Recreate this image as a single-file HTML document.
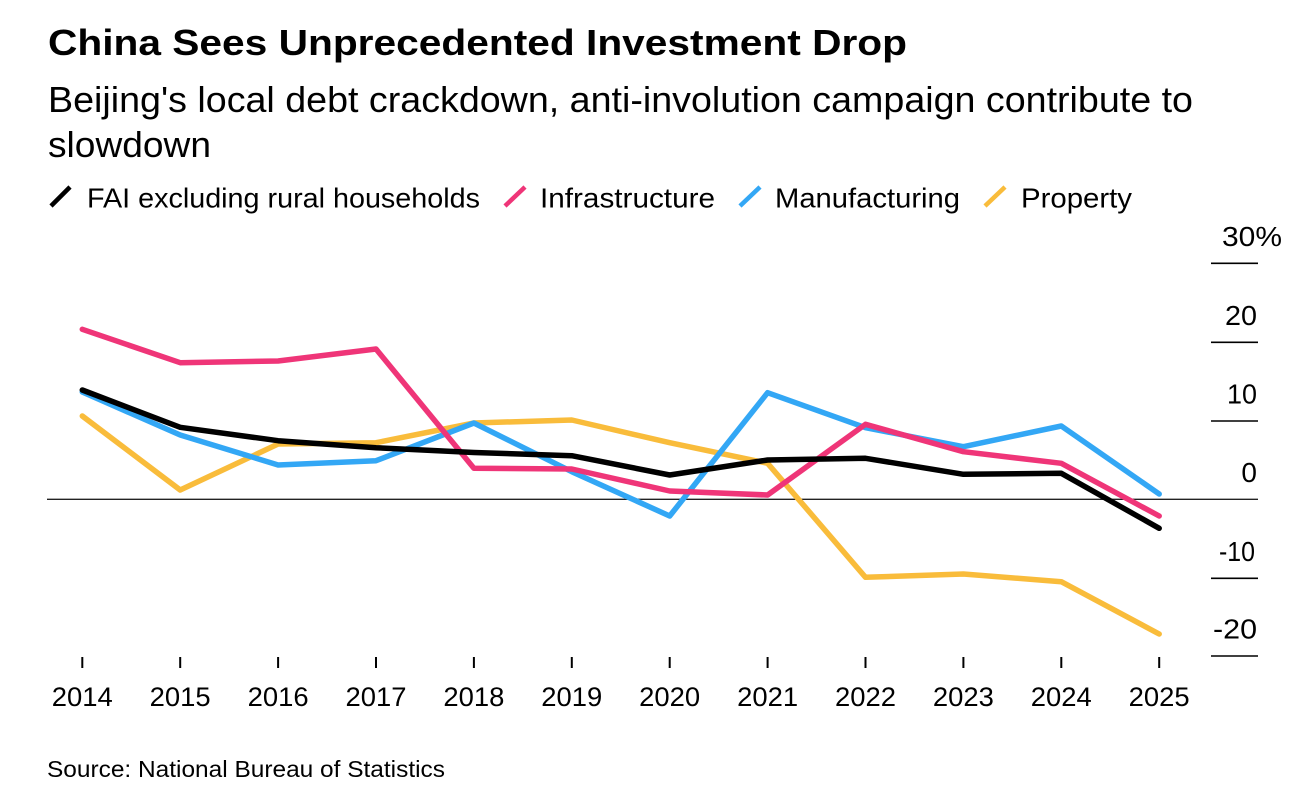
<!DOCTYPE html>
<html>
<head>
<meta charset="utf-8">
<style>
  html, body { margin: 0; padding: 0; background: #fff; }
  svg { display: block; }
  text { font-family: "Liberation Sans", Arial, sans-serif; fill: #000; }
</style>
</head>
<body>
<svg width="1298" height="788" viewBox="0 0 1298 788" xmlns="http://www.w3.org/2000/svg">
  <rect x="0" y="0" width="1298" height="788" fill="#fff"/>

  <!-- Title -->
  <text x="48" y="55" font-size="36" font-weight="bold" textLength="859" lengthAdjust="spacingAndGlyphs">China Sees Unprecedented Investment Drop</text>
  <!-- Subtitle -->
  <text x="48" y="112" font-size="36" textLength="1145" lengthAdjust="spacingAndGlyphs">Beijing's local debt crackdown, anti-involution campaign contribute to</text>
  <text x="48" y="157" font-size="36" textLength="163" lengthAdjust="spacingAndGlyphs">slowdown</text>

  <!-- Legend -->
  <line x1="51" y1="206" x2="70" y2="187" stroke="#000" stroke-width="4.5"/>
  <text x="87" y="207.5" font-size="28" textLength="393" lengthAdjust="spacingAndGlyphs">FAI excluding rural households</text>
  <line x1="505" y1="206" x2="525" y2="187" stroke="#ef3578" stroke-width="4.5"/>
  <text x="540" y="207.5" font-size="28" textLength="175" lengthAdjust="spacingAndGlyphs">Infrastructure</text>
  <line x1="740" y1="206" x2="760" y2="187" stroke="#33a7f5" stroke-width="4.5"/>
  <text x="775" y="207.5" font-size="28" textLength="185" lengthAdjust="spacingAndGlyphs">Manufacturing</text>
  <line x1="985" y1="206" x2="1005" y2="187" stroke="#f9bc3b" stroke-width="4.5"/>
  <text x="1021" y="207.5" font-size="28" textLength="111" lengthAdjust="spacingAndGlyphs">Property</text>

  <!-- Y axis grid ticks on the right -->
  <g stroke="#000" stroke-width="1.6">
    <line x1="1211" y1="263.3" x2="1258" y2="263.3"/>
    <line x1="1211" y1="342.3" x2="1258" y2="342.3"/>
    <line x1="1211" y1="421" x2="1258" y2="421"/>
    <line x1="1211" y1="578.3" x2="1258" y2="578.3"/>
    <line x1="1211" y1="656" x2="1258" y2="656"/>
  </g>
  <!-- zero line -->
  <line x1="47" y1="499.3" x2="1258" y2="499.3" stroke="#222" stroke-width="1.4"/>

  <!-- Y labels -->
  <text x="1222" y="246" font-size="28" textLength="60" lengthAdjust="spacingAndGlyphs">30%</text>
  <text x="1257" y="325" font-size="28" text-anchor="end" textLength="32" lengthAdjust="spacingAndGlyphs">20</text>
  <text x="1257" y="403.5" font-size="28" text-anchor="end" textLength="30" lengthAdjust="spacingAndGlyphs">10</text>
  <text x="1257" y="482" font-size="28" text-anchor="end">0</text>
  <text x="1255" y="561" font-size="28" text-anchor="end" textLength="36" lengthAdjust="spacingAndGlyphs">-10</text>
  <text x="1257" y="638.5" font-size="28" text-anchor="end" textLength="44" lengthAdjust="spacingAndGlyphs">-20</text>

  <!-- X ticks -->
  <g stroke="#000" stroke-width="2">
    <line x1="82.3" y1="657" x2="82.3" y2="668"/>
    <line x1="180.2" y1="657" x2="180.2" y2="668"/>
    <line x1="278.1" y1="657" x2="278.1" y2="668"/>
    <line x1="376" y1="657" x2="376" y2="668"/>
    <line x1="473.9" y1="657" x2="473.9" y2="668"/>
    <line x1="571.8" y1="657" x2="571.8" y2="668"/>
    <line x1="669.7" y1="657" x2="669.7" y2="668"/>
    <line x1="767.6" y1="657" x2="767.6" y2="668"/>
    <line x1="865.5" y1="657" x2="865.5" y2="668"/>
    <line x1="963.4" y1="657" x2="963.4" y2="668"/>
    <line x1="1061.3" y1="657" x2="1061.3" y2="668"/>
    <line x1="1159.2" y1="657" x2="1159.2" y2="668"/>
  </g>

  <!-- X labels -->
  <g font-size="27" text-anchor="middle">
    <text x="82.3" y="706" textLength="61" lengthAdjust="spacingAndGlyphs">2014</text>
    <text x="180.2" y="706" textLength="61" lengthAdjust="spacingAndGlyphs">2015</text>
    <text x="278.1" y="706" textLength="61" lengthAdjust="spacingAndGlyphs">2016</text>
    <text x="376" y="706" textLength="61" lengthAdjust="spacingAndGlyphs">2017</text>
    <text x="473.9" y="706" textLength="61" lengthAdjust="spacingAndGlyphs">2018</text>
    <text x="571.8" y="706" textLength="61" lengthAdjust="spacingAndGlyphs">2019</text>
    <text x="669.7" y="706" textLength="61" lengthAdjust="spacingAndGlyphs">2020</text>
    <text x="767.6" y="706" textLength="61" lengthAdjust="spacingAndGlyphs">2021</text>
    <text x="865.5" y="706" textLength="61" lengthAdjust="spacingAndGlyphs">2022</text>
    <text x="963.4" y="706" textLength="61" lengthAdjust="spacingAndGlyphs">2023</text>
    <text x="1061.3" y="706" textLength="61" lengthAdjust="spacingAndGlyphs">2024</text>
    <text x="1159.2" y="706" textLength="61" lengthAdjust="spacingAndGlyphs">2025</text>
  </g>

  <!-- Series -->
  <g fill="none" stroke-width="5.5" stroke-linejoin="round" stroke-linecap="round">
    <!-- Property -->
    <polyline stroke="#f9bc3b" points="82.3,416 180.2,490 278.1,444 376,442.7 473.9,423 571.8,420 669.7,442.7 767.6,463.3 865.5,577.3 963.4,574 1061.3,581.7 1159.2,634"/>
    <!-- Manufacturing -->
    <polyline stroke="#33a7f5" points="82.3,392 180.2,435 278.1,465 376,460.7 473.9,423 571.8,471.7 669.7,516 767.6,392.7 865.5,427.7 963.4,446.7 1061.3,426 1159.2,494"/>
    <!-- Infrastructure -->
    <polyline stroke="#ef3578" points="82.3,329.3 180.2,362.7 278.1,361 376,349 473.9,468.3 571.8,469 669.7,491 767.6,495 865.5,424.3 963.4,451.7 1061.3,463.3 1159.2,516"/>
    <!-- FAI -->
    <polyline stroke="#000" points="82.3,390 180.2,427.3 278.1,440.7 376,447.7 473.9,452.5 571.8,455.7 669.7,475 767.6,460 865.5,458.3 963.4,474.3 1061.3,473.3 1159.2,528.3"/>
  </g>

  <!-- Source -->
  <text x="47" y="777" font-size="23" textLength="398" lengthAdjust="spacingAndGlyphs">Source: National Bureau of Statistics</text>
</svg>
</body>
</html>
